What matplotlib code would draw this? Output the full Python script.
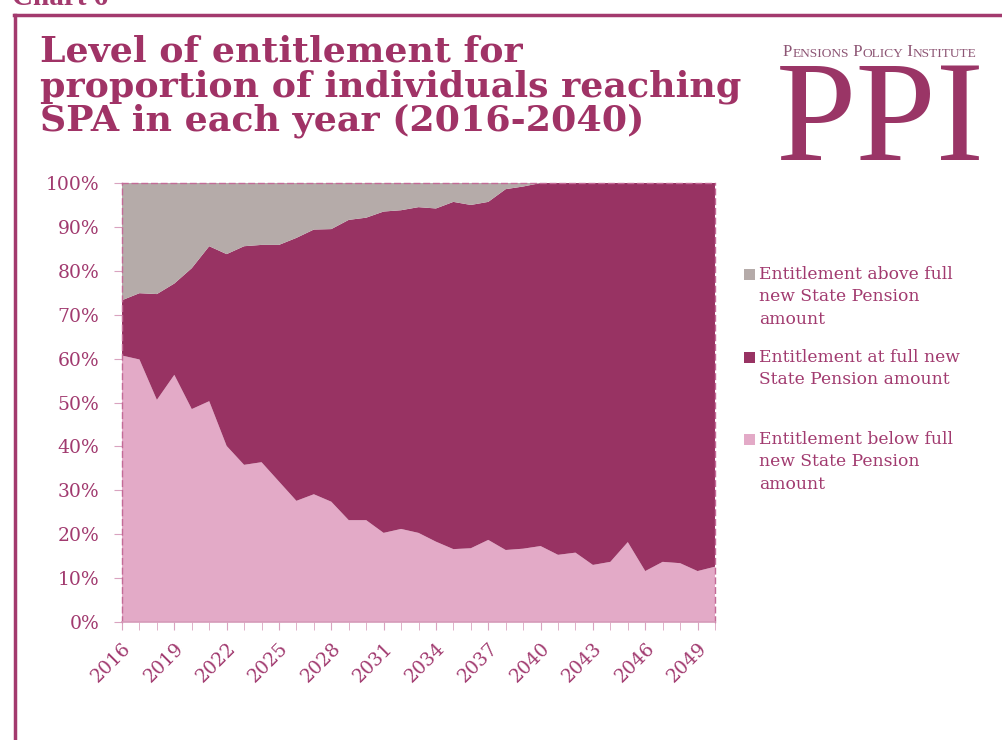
import matplotlib
matplotlib.use("Agg")
import matplotlib.pyplot as plt
from matplotlib.patches import Rectangle
from matplotlib.lines import Line2D
from matplotlib.text import Annotation
from matplotlib.transforms import ScaledTranslation

# ---- data (percent of individuals reaching SPA) ----
years = list(range(2016, 2051))
below_full = [60.7, 59.8, 50.6, 56.3, 48.5, 50.3, 40.1, 35.8, 36.4, 32.0,
              27.6, 29.1, 27.4, 23.2, 23.2, 20.3, 21.2, 20.3, 18.3, 16.6,
              16.8, 18.7, 16.4, 16.7, 17.3, 15.3, 15.8, 13.0, 13.7, 18.2,
              11.6, 13.7, 13.4, 11.6, 12.6]
at_or_below = [73.3, 74.9, 74.7, 77.1, 80.6, 85.6, 83.8, 85.6, 85.9, 85.9,
               87.5, 89.4, 89.5, 91.6, 92.1, 93.5, 93.8, 94.5, 94.2, 95.7,
               95.0, 95.7, 98.6, 99.2, 100, 100, 100, 100, 100, 100,
               100, 100, 100, 100, 100]
tick_years = list(range(2016, 2050, 3))
y_ticks = list(range(0, 101, 10))
labels = ["Entitlement above full\nnew State Pension\namount",
          "Entitlement at full new\nState Pension amount",
          "Entitlement below full\nnew State Pension\namount"]

C_BELOW = "#e3aac7"
C_AT = "#983363"
C_ABOVE = "#b5aba9"
C_TEXT = "#a13a6f"
C_AXIS = "#c46a97"

at_full = [t - b for t, b in zip(at_or_below, below_full)]
above_full = [100 - t for t in at_or_below]

W, H = 1003, 740
fig = plt.figure(figsize=(W / 100, H / 100), dpi=100)

def fx(px):
    return px / W

def fy(py):
    return 1 - py / H

serif = ["DejaVu Serif"]

# frame
fig.add_artist(Line2D([fx(15), fx(15)], [fy(15), fy(745)], color="#a33a6e", lw=2.5))
fig.add_artist(Line2D([fx(14), fx(1010)], [fy(15), fy(15)], color="#a33a6e", lw=2.5))
fig.text(fx(12), fy(5), "Chart 6", fontsize=21, fontweight="bold", color="#a33a6e",
         family=["Liberation Serif"], va="baseline", ha="left")

# title
fig.text(fx(40), fy(35), "Level of entitlement for\nproportion of individuals reaching\nSPA in each year (2016-2040)",
         fontsize=26.2, fontweight="bold", color="#a03366", family=serif,
         va="top", ha="left", linespacing=1.0)

# logo: small caps "Pensions Policy Institute"
logo_col = "#8d5574"
big, small = 12.2, 9.6
pieces = []
for wi, word in enumerate(["PENSIONS", "POLICY", "INSTITUTE"]):
    pieces.append((word[0] if wi == 0 else " " + word[0], big))
    pieces.append((word[1:], small))
prev = fig.text(fx(783), fy(56), pieces[0][0], fontsize=pieces[0][1], color=logo_col,
                family=["Liberation Serif"], ha="left", va="baseline")
for txt, size in pieces[1:]:
    a = Annotation(txt, xy=(1, 0), xycoords=prev, xytext=(0, 0),
                   textcoords="offset points", fontsize=size, color=logo_col,
                   family=["Liberation Serif"], ha="left", va="bottom",
                   annotation_clip=False)
    fig.add_artist(a)
    prev = a

fig.text(fx(880), fy(160), "PPI", fontsize=104, color="#9a3566",
         family=["Liberation Serif"], ha="center", va="baseline")

# axes
ax = fig.add_axes([fx(122), fy(622), fx(715) - fx(122), fy(183) - fy(622)])
ax.stackplot(years, below_full, at_full, above_full,
             colors=[C_BELOW, C_AT, C_ABOVE], linewidth=0)
ax.set_xlim(2016, 2050)
ax.set_ylim(0, 100)
ax.set_yticks(y_ticks)
ax.set_yticklabels([f"{v}%" for v in y_ticks])
ax.set_xticks(years, minor=True)
ax.set_xticks(tick_years)
ax.set_xticklabels([str(y) for y in tick_years], rotation=45, ha="right",
                   rotation_mode="anchor")
shift = ScaledTranslation(-0.05, 0, fig.dpi_scale_trans)
for lbl in ax.get_xticklabels():
    lbl.set_transform(lbl.get_transform() + shift)
for lbl in ax.get_xticklabels() + ax.get_yticklabels():
    lbl.set_family(serif)
    lbl.set_color(C_TEXT)
    lbl.set_fontsize(13.5)
ax.tick_params(axis="x", which="both", length=5.5, color="#d9a3bf", pad=7, direction="out")
ax.tick_params(axis="y", length=5.5, color="#d9a3bf", pad=11)
for s in ["top", "right", "left"]:
    ax.spines[s].set_linestyle((0, (4, 3)))
    ax.spines[s].set_color(C_AXIS)
    ax.spines[s].set_linewidth(1)
ax.spines["bottom"].set_color("#d59bb9")
ax.spines["bottom"].set_linewidth(1.2)

# legend (manual)
entries = [(labels[0], C_ABOVE, 266), (labels[1], C_AT, 349), (labels[2], C_BELOW, 431)]
for text, col, ytop in entries:
    fig.add_artist(Rectangle((fx(744), fy(ytop + 14)), fx(11), 11 / H,
                             facecolor=col, edgecolor="none", transform=fig.transFigure))
    fig.text(fx(759), fy(ytop), text, fontsize=12.3, color=C_TEXT, family=serif,
             va="top", ha="left", linespacing=1.42)

fig.savefig("out.png", dpi=100, facecolor="white")
